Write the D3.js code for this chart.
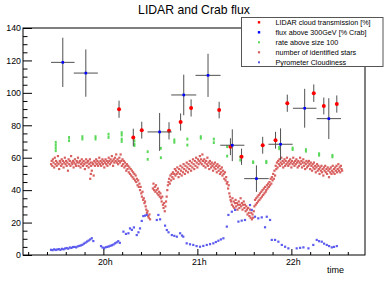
<!DOCTYPE html>
<html><head><meta charset="utf-8">
<script src="https://cdn.jsdelivr.net/npm/d3@7"></script>
<style>html,body{margin:0;padding:0;background:#fff;} svg{display:block;font-family:"Liberation Sans",Arial,Helvetica,sans-serif;}</style>
</head><body><svg id="c" width="389" height="284"></svg>
<script>
// ---------- data (time = minutes after 19:00) ----------
const chartTitle = "LIDAR and Crab flux";
const axisTitleX = "time";
const legendLabels = ["LIDAR cloud transmission [%]", "flux above 300GeV [% Crab]", "rate above size 100", "number of identified stars", "Pyrometer Cloudiness"];
const xTickHours = [20, 21, 22];
const xTickLabels = ["20h", "21h", "22h"];
const yTickValues = [0, 20, 40, 60, 80, 100, 120, 140];

// flux above 300 GeV [% Crab]
const fluxTime  = [34.1, 48.8, 95.9, 111.3, 126.8, 142.3, 157.7, 173.1, 188.5, 203.9];
const fluxValue = [118.8, 112.2, 75.9, 98.7, 110.8, 67.7, 47.1, 68.3, 90.5, 84.1];
const fluxErr   = [15.2, 14.6, 11.7, 12.5, 13.3, 9.8, 8.2, 9.8, 12.0, 12.6];
const fluxTimeErr = [7.5, 7.7, 7.7, 8.0, 8.0, 7.7, 7.8, 7.7, 7.5, 7.8];

// LIDAR cloud transmission [%]
const lidarTime  = [70.0, 79.1, 84.5, 101.9, 109.3, 116.0, 133.9, 141.1, 148.2, 161.7, 169.9, 177.4, 194.3, 200.7, 209.0];
const lidarValue = [89.9, 72.5, 77.0, 76.6, 82.0, 90.7, 89.4, 66.8, 60.6, 67.7, 70.8, 93.6, 99.8, 91.9, 93.1];
const lidarErr   = [5.3, 5.4, 5.2, 5.3, 5.3, 5.3, 5.1, 5.2, 5.0, 5.2, 5.2, 5.3, 5.4, 5.2, 5.3];

// rate above size 100
const rateTime  = [29.6,29.6,29.6,29.6, 38.1,38.1, 46.6,46.6, 55.0,55.0, 63.3,63.3, 71.7,71.7,71.7,71.7, 79.8,79.8,79.8, 88.3,88.3, 96.7,96.7, 105.3,105.3, 113.6,113.6, 122.2,122.2, 130.5,130.5, 139.0,139.0, 147.4,147.4, 155.6,155.6, 164.0,164.0, 172.3,172.3, 180.8,180.8, 189.3,189.3, 197.7,197.7, 206.2,206.2];
const rateValue = [69.5,67.7,66.0,64.3, 72.5,70.5, 73.0,71.5, 73.0,71.5, 74.5,72.5, 75.5,74.0,71.5,70.0, 70.5,68.5,67.5, 63.7,59.0, 65.8,60.0, 71.0,69.5, 71.5,67.8, 73.0,72.0, 71.5,69.3, 66.8,61.0, 60.5,58.5, 57.5,57.0, 57.8,57.0, 66.5,65.5, 66.0,65.0, 65.0,64.0, 62.5,61.5, 61.5,60.5];

// number of identified stars
const stars = [
[26.6,56],[27.0,58],[27.4,55],[27.8,59],[28.2,57],[28.6,54],[29.0,60],[29.4,56],[29.8,58],[30.2,55],[30.6,57],[31.0,61],[31.4,56],[31.8,53],[32.2,58],[32.6,57],[33.0,55],[33.4,59],[33.8,56],[34.2,58],[34.6,54],[35.0,57],[35.4,60],[35.8,56],[36.2,58],[36.6,55],[37.0,57],[37.4,52],[37.8,59],[38.2,56],[38.6,58],[39.0,55],[39.4,61],[39.8,57],[40.2,56],[40.6,58],[41.0,54],[41.4,57],[41.8,59],[42.2,56],[42.6,55],[43.0,58],[43.4,57],[43.8,60],[44.2,55],[44.6,57],[45.0,58],[45.4,54],[45.8,56],[46.2,59],[46.6,57],[47.0,55],[47.4,58],[47.8,56],[48.2,53],[48.6,57],[49.0,59],[49.4,55],[49.8,57],[50.2,58],[50.6,54],[51.0,56],[51.4,59],[51.6,47],[51.8,57],[52.0,50],[52.2,55],[52.6,52],[53.0,57],[53.4,56],[53.8,49],[54.2,58],[54.6,55],[55.0,57],[55.4,59],[55.8,56],[56.2,58],[56.6,55],[57.0,57],[57.4,60],[57.8,56],[58.2,58],[58.6,55],[59.0,57],[59.4,59],[59.8,56],[60.2,58],[60.6,54],[61.0,57],[61.4,59],[61.8,56],[62.2,58],[62.6,55],[63.0,57],[63.4,60],[63.8,58],[64.2,56],[64.6,59],[65.0,57],[65.4,61],[65.8,58],[66.2,55],[66.6,59],[67.0,57],[67.4,60],[67.8,58],[68.2,62],[68.6,57],[69.0,59],[69.4,56],[69.8,58],
[70.2,60],[70.6,57],[71.0,62],[71.4,58],[71.8,55],[72.2,59],[72.6,56],[73.0,58],[73.4,54],[73.8,57],[74.2,55],[74.6,52],[75.0,56],[75.4,53],[75.8,55],[76.2,51],[76.6,54],[77.0,50],[77.4,53],[77.8,49],[78.2,52],[78.6,48],[79.0,51],[79.4,47],[79.8,50],[80.2,46],[80.6,49],[81.0,45],[81.4,47],[81.8,43],[82.2,46],[82.6,42],[83.0,44],[83.4,40],[83.8,42],
[84.2,38],[84.6,36],[85.0,39],[85.4,34],[85.8,35],[86.2,32],[86.6,33],[87.0,30],[87.4,28],[87.8,26],[88.2,27],[88.6,24],[89.0,23],[89.4,25],[89.8,22],
[91.6,41],[92.0,44],[92.4,40],[92.8,42],[93.2,39],[93.6,43],[94.0,40],[94.4,38],[94.8,41],[95.2,37],[95.6,39],[96.0,36],[96.4,38],[96.8,35],[97.2,33],[97.6,36],[98.0,31],[98.4,29],[98.8,32],[99.2,27],[99.6,30],
[100.0,33],[100.4,36],[100.8,40],[101.2,43],[101.6,45],[102.0,47],[102.4,44],[102.8,49],[103.2,46],[103.6,50],
[104.0,48],[104.4,51],[104.8,47],[105.2,50],[105.6,53],[106.0,49],[106.4,52],[106.8,50],[107.2,54],[107.6,51],[108.0,48],[108.4,53],[108.8,50],[109.2,55],[109.6,52],[110.0,49],[110.4,54],[110.8,51],[111.2,56],[111.6,53],[112.0,50],[112.4,55],[112.8,52],[113.2,57],[113.6,54],[114.0,51],[114.4,56],[114.8,53],[115.2,58],[115.6,55],[116.0,52],[116.4,57],[116.8,54],[117.2,59],[117.6,56],[118.0,53],[118.4,58],[118.8,55],[119.2,60],[119.6,57],[120.0,54],[120.4,59],[120.8,56],[121.2,58],[121.6,61],[122.0,57],
[122.4,59],[122.8,56],[123.2,62],[123.6,58],[124.0,55],[124.4,59],[124.8,57],[125.2,54],[125.6,58],[126.0,56],[126.4,60],[126.8,55],[127.2,57],[127.6,53],[128.0,58],[128.4,56],[128.8,54],[129.2,57],[129.6,55],[130.0,52],[130.4,56],[130.8,54],[131.2,57],[131.6,53],[132.0,55],[132.4,51],[132.8,56],[133.2,54],[133.6,52],[134.0,55],[134.4,50],[134.8,53],[135.2,51],[135.6,54],[136.0,49],[136.4,52],[136.8,50],[137.2,47],[137.6,51],
[138.0,46],[138.4,48],[138.8,44],[139.2,45],[139.6,41],[140.0,43],[140.4,38],[140.8,36],[141.2,34],
[141.6,33],[142.0,31],[142.4,35],[142.8,30],[143.2,33],[143.6,29],[144.0,32],[144.4,34],[144.8,30],[145.2,32],[145.6,28],[146.0,31],[146.4,33],[146.8,29],[147.2,31],[147.6,35],[148.0,30],[148.4,32],[148.8,28],[149.2,31],[149.6,33],[150.0,29],[150.4,31],[150.8,27],[151.2,30],[151.6,28],[152.0,25],[152.4,29],[152.8,26],
[153.2,24],[153.6,28],[154.0,23],[154.4,26],[154.8,22],[155.2,25],[155.6,23],[156.0,27],
[156.4,30],[156.8,34],[157.2,31],[157.6,35],[158.0,32],[158.4,36],[158.8,33],[159.2,37],[159.6,34],[160.0,38],[160.4,35],[160.8,39],[161.2,36],[161.6,40],[162.0,37],[162.4,41],[162.8,38],[163.2,42],[163.6,39],[164.0,40],[164.4,43],[164.8,41],[165.2,44],[165.6,42],[166.0,45],[166.4,43],[166.8,47],[167.2,44],[167.6,48],[168.0,46],[168.4,50],[168.8,47],[169.2,52],[169.6,49],
[170.0,55],[170.4,53],[170.8,57],[171.2,54],[171.6,58],
[172.0,56],[172.4,59],[172.8,55],[173.2,57],[173.6,60],[174.0,56],[174.4,58],[174.8,54],[175.2,57],[175.6,59],[176.0,55],[176.4,58],[176.8,56],[177.2,60],[177.6,57],[178.0,55],[178.4,58],[178.8,56],[179.2,59],[179.6,57],[180.0,54],[180.4,58],[180.8,56],[181.2,60],[181.6,57],[182.0,55],[182.4,58],[182.8,56],[183.2,59],[183.6,57],[184.0,54],[184.4,58],[184.8,55],[185.2,57],[185.6,60],[186.0,56],[186.4,58],[186.8,54],[187.2,57],[187.6,59],[188.0,55],[188.4,57],[188.8,53],[189.2,56],[189.6,58],[190.0,54],[190.4,57],[190.8,55],[191.2,58],[191.6,56],[192.0,53],[192.4,57],[192.8,55],[193.2,52],[193.6,56],[194.0,54],[194.4,57],[194.8,53],[195.2,55],[195.6,51],[196.0,54],[196.4,56],[196.8,52],[197.2,55],[197.6,53],[198.0,50],[198.4,54],[198.8,52],[199.2,55],[199.6,51],[200.0,53],[200.4,49],[200.8,54],[201.2,52],[201.6,55],[202.0,51],[202.4,53],[202.8,50],[203.2,54],[203.6,52],[204.0,48],[204.4,53],[204.8,51],[205.2,54],[205.6,50],[206.0,52],[206.4,55],[206.8,51],[207.2,53],[207.6,50],[208.0,54],[208.4,52],[208.8,55],[209.2,51],[209.6,53],[210.0,56],[210.4,52],[210.8,54],[211.2,51],[211.6,55],[212.0,53],[212.4,52]
];

// Pyrometer Cloudiness
const pyro = [
[26.6,3.2],[27.6,3.0],[28.6,3.5],[29.6,3.1],[30.6,3.4],[31.6,3.6],[32.6,3.2],[33.6,3.8],[34.6,3.5],[35.6,4.0],[36.6,4.3],[37.6,3.9],[38.6,4.6],[39.6,4.4],[40.6,4.9],[41.6,5.0],[42.6,4.7],[43.6,5.3],[44.6,5.6],[45.6,5.9],[46.6,6.3],[47.6,7.0],[48.6,7.6],[49.6,8.3],[50.6,8.9],[51.6,9.6],[52.6,10.3],[53.6,8.6],
[58.5,5.5],[59.5,4.6],[60.5,4.2],[61.5,4.8],[62.5,5.0],[63.5,5.3],[64.5,5.7],[65.5,6.0],[66.5,6.5],[67.5,7.2],[68.5,7.8],[69.5,8.5],[70.5,7.5],
[72.8,14.4],[74.4,13.0],[76.0,13.4],[77.0,16.4],[78.2,15.5],[79.5,17.0],[81.3,12.3],[82.4,14.0],[83.4,16.4],[84.5,21.0],[85.5,24.0],[86.6,24.3],[87.7,24.7],
[94.1,21.6],[95.1,24.7],[96.2,22.0],[99.4,18.1],[100.5,15.4],[101.6,14.0],[103.7,12.3],[105.3,11.8],[106.9,11.3],[109.0,13.4],[110.2,12.0],[111.0,11.3],
[113.2,7.2],[115.3,6.6],[117.4,6.2],[119.5,5.5],[121.7,5.1],[123.8,5.6],[126.0,6.2],[128.1,6.7],[130.2,7.2],[131.8,8.0],[133.4,8.8],[135.0,9.6],[136.6,10.3],
[138.8,17.5],[139.8,24.7],[142.0,26.7],[144.1,27.8],[146.2,20.6],[148.3,21.2],[150.4,21.6],[153.6,30.8],[154.7,27.8],[156.8,23.6],[158.9,22.6],[161.1,23.2],[163.2,17.1],[164.3,23.6],[166.4,21.6],
[167.5,9.3],[169.6,9.3],[171.7,8.2],[173.9,6.2],[176.0,5.1],[178.1,4.1],
[183.4,4.1],[185.6,4.4],[187.7,4.7],[190.9,4.1],[194.0,6.2],[196.2,9.3],[197.7,8.5],[199.4,8.2],[200.9,7.0],[202.6,6.2],[204.1,5.5],[205.8,4.7],[207.2,5.0],[209.0,5.5]
];

// ---------- drawing ----------
const svg = d3.select("#c");
const W = 389, H = 284;
const pL = 23, pR = 365, pT = 28, pB = 255;
const x = d3.scaleLinear().domain([8.7, 227]).range([pL, pR]);
const y = d3.scaleLinear().domain([0, 140]).range([pB, pT]);

svg.append("rect").attr("width", W).attr("height", H).attr("fill", "#fff");

const colStars = "#d85f5f", colPyro = "#5b5bee", colRate = "#5ad85a", colLidar = "#ff0000", colFlux = "#0000ff", colErr = "#505050";

// stars
svg.append("g").selectAll("rect").data(stars).join("rect")
  .attr("x", d => x(d[0]) - 1.1).attr("y", d => y(d[1]) - 1.1)
  .attr("width", 2.2).attr("height", 2.2).attr("fill", colStars);

// pyrometer
svg.append("g").selectAll("rect").data(pyro).join("rect")
  .attr("x", d => x(d[0]) - 1.1).attr("y", d => y(d[1]) - 1.1)
  .attr("width", 2.2).attr("height", 2.2).attr("fill", colPyro);

// rate
svg.append("g").selectAll("rect").data(rateTime.map((t, i) => [t, rateValue[i]])).join("rect")
  .attr("x", d => x(d[0]) - 1).attr("y", d => y(d[1]) - 1.4)
  .attr("width", 2).attr("height", 2.8).attr("fill", colRate);

// LIDAR with error bars
const lid = lidarTime.map((t, i) => ({t, v: lidarValue[i], e: lidarErr[i]}));
const gL = svg.append("g");
gL.selectAll("line").data(lid).join("line")
  .attr("x1", d => x(d.t)).attr("x2", d => x(d.t))
  .attr("y1", d => y(d.v + d.e)).attr("y2", d => y(d.v - d.e))
  .attr("stroke", colErr).attr("stroke-width", 1);
gL.selectAll("circle").data(lid).join("circle")
  .attr("cx", d => x(d.t)).attr("cy", d => y(d.v)).attr("r", 2.0).attr("fill", colLidar);

// flux with error bars
const fl = fluxTime.map((t, i) => ({t, v: fluxValue[i], e: fluxErr[i], te: fluxTimeErr[i]}));
const gF = svg.append("g");
gF.selectAll("line.v").data(fl).join("line").attr("class", "v")
  .attr("x1", d => x(d.t)).attr("x2", d => x(d.t))
  .attr("y1", d => y(d.v + d.e)).attr("y2", d => y(d.v - d.e))
  .attr("stroke", colErr).attr("stroke-width", 1);
gF.selectAll("line.h").data(fl).join("line").attr("class", "h")
  .attr("x1", d => x(d.t - d.te)).attr("x2", d => x(d.t + d.te))
  .attr("y1", d => y(d.v)).attr("y2", d => y(d.v))
  .attr("stroke", colErr).attr("stroke-width", 1);
gF.selectAll("rect").data(fl).join("rect")
  .attr("x", d => x(d.t) - 1.3).attr("y", d => y(d.v) - 1.3)
  .attr("width", 2.6).attr("height", 2.6).attr("fill", colFlux);

// axes
const fontAx = 8.8;
const xMajor = xTickHours.map(h => (h - 19) * 60);
const xMinor = d3.range(12, 227, 12).filter(v => !xMajor.includes(v));
const axB = svg.append("g").attr("transform", `translate(0,${pB})`)
  .call(d3.axisBottom(x).tickValues(xMajor).tickFormat((d, i) => xTickLabels[i]).tickSize(-6).tickSizeOuter(0).tickPadding(4));
const axBm = svg.append("g").attr("transform", `translate(0,${pB})`)
  .call(d3.axisBottom(x).tickValues(xMinor).tickFormat("").tickSize(-3).tickSizeOuter(0));
const yMinor = d3.range(0, 141, 5).filter(v => !yTickValues.includes(v));
const axL = svg.append("g").attr("transform", `translate(${pL},0)`)
  .call(d3.axisLeft(y).tickValues(yTickValues).tickSize(-9).tickSizeOuter(0).tickPadding(2));
const axLm = svg.append("g").attr("transform", `translate(${pL},0)`)
  .call(d3.axisLeft(y).tickValues(yMinor).tickFormat("").tickSize(-4.5).tickSizeOuter(0));
[axB, axBm, axL, axLm].forEach(g => {
  g.select(".domain").remove();
  g.selectAll("line").attr("stroke", "#000").attr("stroke-width", 1);
  g.selectAll("text").attr("font-size", fontAx).attr("fill", "#000").attr("font-family", "Liberation Sans, Arial, sans-serif");
});
axB.selectAll("text").attr("dx", "1.4");

// frame
svg.append("rect").attr("x", pL).attr("y", pT).attr("width", pR - pL).attr("height", pB - pT)
  .attr("fill", "none").attr("stroke", "#000").attr("stroke-width", 1);

// x axis title
svg.append("text").attr("x", 344).attr("y", 273).attr("text-anchor", "end")
  .attr("font-size", 9).attr("fill", "#000").text(axisTitleX);

// title
svg.append("text").attr("x", 194).attr("y", 14).attr("text-anchor", "middle")
  .attr("font-size", 12.2).attr("fill", "#000").text(chartTitle);

// legend
const lg = svg.append("g");
lg.append("rect").attr("x", 241.5).attr("y", 17.5).attr("width", 141.5).attr("height", 49)
  .attr("fill", "#fff").attr("stroke", "#555").attr("stroke-width", 1);
const legCols = [colLidar, colFlux, colRate, colStars, colPyro];
const legSize = [2.4, 2.4, 2, 2.2, 2];
legendLabels.forEach((lab, i) => {
  const cy = 22.3 + i * 10;
  lg.append("rect").attr("x", 259 - legSize[i] / 2).attr("y", cy - legSize[i] / 2)
    .attr("width", legSize[i]).attr("height", legSize[i]).attr("fill", legCols[i]);
  lg.append("text").attr("x", 275.5).attr("y", cy + 2.6).attr("font-size", 7.2).attr("fill", "#000").text(lab);
});
</script></body></html>
